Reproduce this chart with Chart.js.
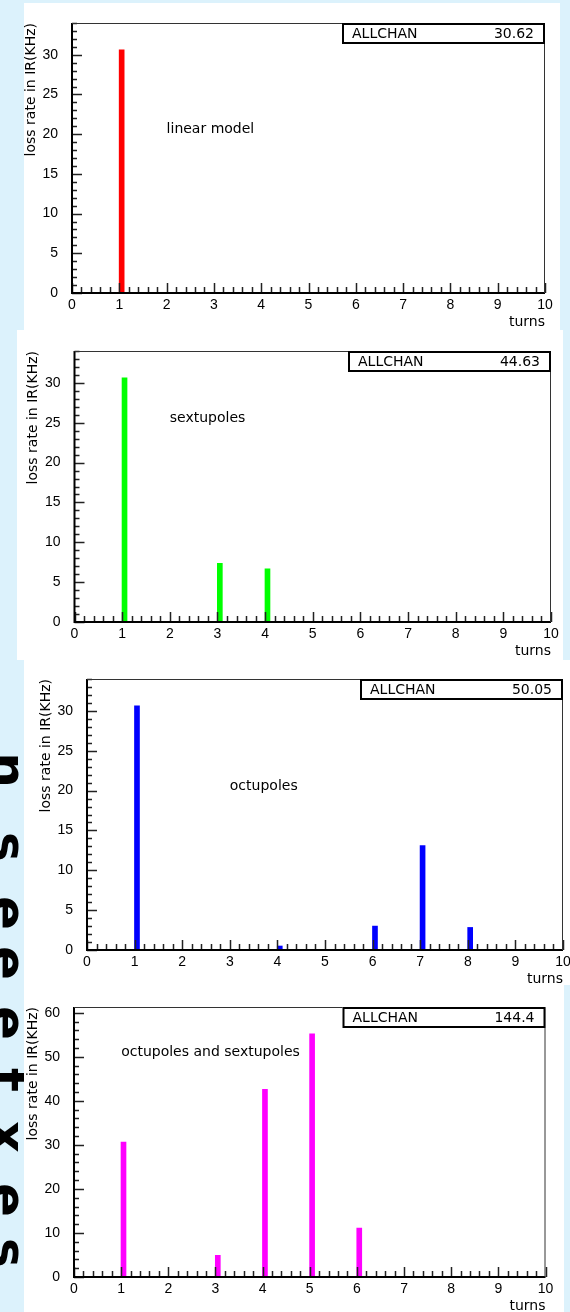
<!DOCTYPE html>
<html>
<head>
<meta charset="utf-8">
<script src="https://cdn.jsdelivr.net/npm/chart.js@4.4.1/dist/chart.umd.min.js"></script>
<style>
    html, body { margin: 0; padding: 0; background: #dcf2fc; }
    body { width: 570px; height: 1312px; position: relative; overflow: hidden; }
    .panel { position: absolute; background: #fff; }
    .panel canvas { display: block; }
    .glyph { position: absolute; display: block; width: 50px; height: 50px; line-height: 50px; text-align: center;
             font: bold 50px "DejaVu Sans"; color: #000; transform: rotate(90deg); }
</style>
</head>
<body>

<script>
// データ（各パネルのヒストグラム）
const turnTicks = [0, 1, 2, 3, 4, 5, 6, 7, 8, 9, 10];
const binWidth = 0.1;

const turnsLinear = [1];
const lossLinear = [30.62];

const turnsSext = [1, 3, 4];
const lossSext = [30.62, 7.35, 6.66];

const turnsOct = [1, 4, 6, 7, 8];
const lossOct = [30.62, 0.5, 3.0, 13.1, 2.83];

const turnsBoth = [1, 3, 4, 5, 6];
const lossBoth = [30.62, 4.9, 42.6, 55.2, 11.1];

const panelNames = ['linear model', 'sextupoles', 'octupoles', 'octupoles and sextupoles'];
const panelTotals = ['30.62', '44.63', '50.05', '144.4'];
const yMaxes = [34, 34, 34, 61.3];

// 左端の回転した文字（切れている）
const sideChars = ['n', 's', 'e', 'e', 'e', 't', 'x', 'e', 's'];
const sideCharY = [770, 847, 913, 963, 1023, 1080, 1137, 1200, 1253];

sideChars.forEach((c, i) => {
    const s = document.createElement('div');
    s.className = 'glyph';
    s.textContent = c;
    s.style.left = '-13px';
    s.style.top = (sideCharY[i] - 25) + 'px';
    document.body.appendChild(s);
});

// パネルの配置（白い枠と描画領域）
const panels = [
    { box: [24, 3, 536, 327],  area: [72, 545, 23, 293],   color: '#ff0000', turns: turnsLinear, loss: lossLinear, yStep: 5,  yMinor: 1, yMajor: 5,  note: [2, 20.6] },
    { box: [17, 330, 546, 330], area: [74.5, 551, 351, 622], color: '#00ff00', turns: turnsSext,   loss: lossSext,   yStep: 5,  yMinor: 1, yMajor: 5,  note: [2, 25.6] },
    { box: [24, 660, 546, 325], area: [87, 563, 679, 950],   color: '#0000ff', turns: turnsOct,    loss: lossOct,    yStep: 5,  yMinor: 1, yMajor: 5,  note: [3, 20.5] },
    { box: [24, 985, 540, 327], area: [74, 545.5, 1007, 1277], color: '#ff00ff', turns: turnsBoth, loss: lossBoth,   yStep: 10, yMinor: 2, yMajor: 10, note: [1, 51] }
];

const textFont = '14px "DejaVu Sans"';

// 枠・目盛り・注記を描くプラグイン
const histFrame = {
    id: 'histFrame',
    afterDraw(chart) {
        const p = chart.options.plugins.histFrame;
        const { ctx, chartArea: a } = chart;
        const x = chart.scales.x, y = chart.scales.y;
        ctx.save();
        ctx.strokeStyle = '#222';
        ctx.lineWidth = 1.5;
        ctx.beginPath();
        // x 目盛り（0.2刻み）
        for (let k = 0; k <= 50; k++) {
            const px = Math.round(x.getPixelForValue(k / 5)) + 0.5;
            const len = k % 5 === 0 ? 10 : 6;
            ctx.moveTo(px, a.bottom);
            ctx.lineTo(px, a.bottom - len);
        }
        // y 目盛り
        for (let v = 0; v <= y.max + 1e-6; v += p.yMinor) {
            const py = Math.round(y.getPixelForValue(v)) + 0.5;
            const len = v % p.yMajor === 0 ? 10 : 5;
            ctx.moveTo(a.left, py);
            ctx.lineTo(a.left + len, py);
        }
        ctx.stroke();

        // 枠
        ctx.strokeStyle = '#000';
        ctx.lineWidth = 2;
        ctx.beginPath();
        ctx.moveTo(a.left, a.top);
        ctx.lineTo(a.left, a.bottom);
        ctx.lineTo(a.right, a.bottom);
        ctx.stroke();
        ctx.strokeStyle = '#333';
        ctx.lineWidth = 1;
        ctx.beginPath();
        ctx.moveTo(a.left, a.top + 0.5);
        ctx.lineTo(a.right - 0.5, a.top + 0.5);
        ctx.lineTo(a.right - 0.5, a.bottom);
        ctx.stroke();

        // ALLCHAN ボックス
        const bw = 203, bh = 21;
        ctx.strokeStyle = '#000';
        ctx.lineWidth = 2;
        ctx.fillStyle = '#fff';
        ctx.fillRect(a.right - bw, a.top, bw, bh);
        ctx.strokeRect(a.right - bw + 1, a.top + 1, bw - 2, bh - 2);
        ctx.fillStyle = '#000';
        ctx.font = textFont;
        ctx.textBaseline = 'middle';
        ctx.textAlign = 'left';
        ctx.fillText('ALLCHAN', a.right - bw + 10, a.top + bh / 2 + 1);
        ctx.textAlign = 'right';
        ctx.fillText(p.total, a.right - 11, a.top + bh / 2 + 1);

        // 注記
        ctx.textAlign = 'left';
        ctx.fillText(p.name, x.getPixelForValue(p.note[0]), y.getPixelForValue(p.note[1]));

        // x 軸タイトル
        ctx.textAlign = 'right';
        ctx.fillText('turns', a.right, a.bottom + 29);

        // y 軸タイトル
        ctx.translate(a.left - 41, a.top);
        ctx.rotate(-Math.PI / 2);
        ctx.textAlign = 'right';
        ctx.fillText('loss rate in IR(KHz)', 0, 0);
        ctx.restore();
    }
};

panels.forEach((p, i) => {
    const [bx, by, bw, bh] = p.box;
    const [l, r, t, b] = p.area;
    const div = document.createElement('div');
    div.className = 'panel';
    div.style.left = bx + 'px';
    div.style.top = by + 'px';
    div.style.width = bw + 'px';
    div.style.height = bh + 'px';
    const canvas = document.createElement('canvas');
    canvas.width = bw;
    canvas.height = bh;
    div.appendChild(canvas);
    document.body.appendChild(div);

    new Chart(canvas.getContext('2d'), {
        type: 'bar',
        data: {
            datasets: [{
                data: p.turns.map((turn, k) => ({ x: turn + binWidth / 2, y: p.loss[k] })),
                backgroundColor: p.color,
                borderWidth: 0,
                barThickness: 5,
                grouped: false
            }]
        },
        options: {
            responsive: false,
            animation: false,
            devicePixelRatio: 1,
            layout: { padding: { left: 0, top: t - by, right: bx + bw - r, bottom: 0 } },
            plugins: {
                legend: { display: false },
                tooltip: { enabled: false },
                histFrame: { name: panelNames[i], total: panelTotals[i], note: p.note, yMinor: p.yMinor, yMajor: p.yMajor }
            },
            scales: {
                x: {
                    type: 'linear',
                    min: 0,
                    max: 10,
                    offset: false,
                    grid: { display: false, drawTicks: false, offset: false },
                    border: { display: false },
                    afterBuildTicks: s => { s.ticks = turnTicks.map(v => ({ value: v })); },
                    afterFit: s => { s.height = by + bh - b; s.paddingLeft = 0; s.paddingRight = 0; },
                    ticks: { padding: 4, maxRotation: 0, autoSkip: false, color: '#000', font: { family: 'Liberation Sans', size: 14 } }
                },
                y: {
                    type: 'linear',
                    min: 0,
                    max: yMaxes[i],
                    grid: { display: false, drawTicks: false },
                    border: { display: false },
                    afterFit: s => { s.width = l - bx; s.paddingTop = 0; s.paddingBottom = 0; },
                    ticks: {
                        stepSize: p.yStep,
                        includeBounds: false,
                        padding: 14,
                        color: '#000',
                        font: { family: 'Liberation Sans', size: 14 },
                        callback: v => (v % p.yStep === 0 ? v : '')
                    }
                }
            }
        },
        plugins: [histFrame]
    });
});
</script>
</body>
</html>
